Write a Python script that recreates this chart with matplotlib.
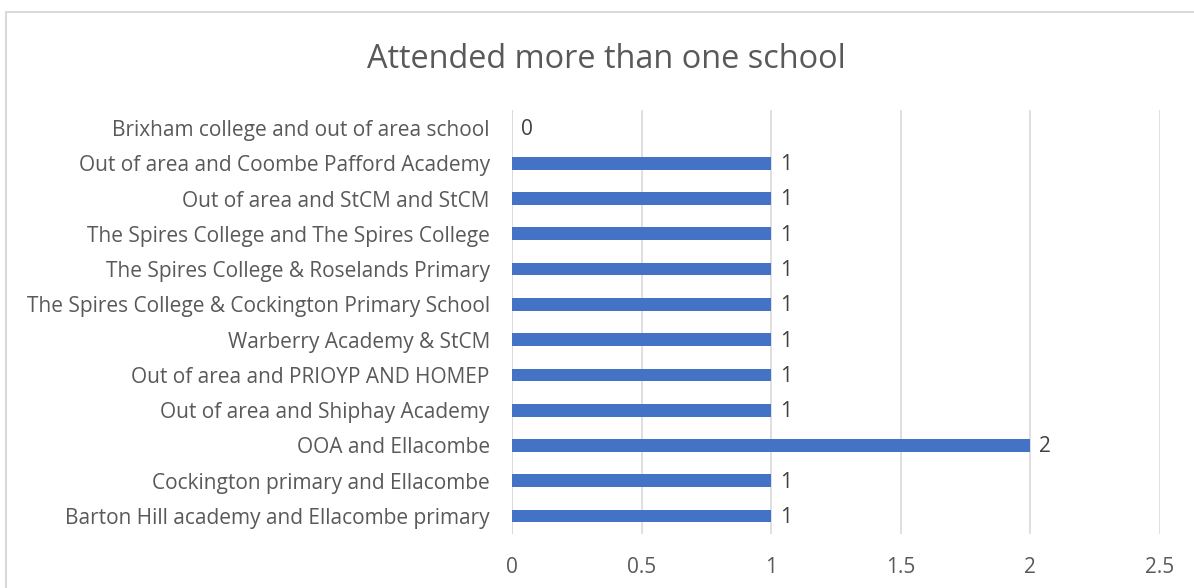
import matplotlib
matplotlib.use("Agg")
import matplotlib.pyplot as plt
from matplotlib.patches import Rectangle

plt.rcParams['font.family'] = ['Open Sans', 'DejaVu Sans']

categories = [
    "Barton Hill academy and Ellacombe primary",
    "Cockington primary and Ellacombe",
    "OOA and Ellacombe",
    "Out of area and Shiphay Academy",
    "Out of area and PRIOYP AND HOMEP",
    "Warberry Academy & StCM",
    "The Spires College & Cockington Primary School",
    "The Spires College & Roselands Primary",
    "The Spires College and The Spires College",
    "Out of area and StCM and StCM",
    "Out of area and Coombe Pafford Academy",
    "Brixham college and out of area school",
]
values = [1, 1, 2, 1, 1, 1, 1, 1, 1, 1, 1, 0]
xticks = [0, 0.5, 1, 1.5, 2, 2.5]
xticklabels = ["0", "0.5", "1", "1.5", "2", "2.5"]
title = "Attended more than one school"

W, H = 1194, 588
fig = plt.figure(figsize=(W / 100, H / 100), dpi=100)
fig.patch.set_facecolor("white")

# chart border
fig.add_artist(Rectangle((6 / W, -0.1), 1.2, (H - 12) / H + 0.1,
                         transform=fig.transFigure, fill=False,
                         edgecolor="#d9d9d9", linewidth=1.5))

left, right = 512 / W, 1160 / W
bottom, top = 1 - 533.6 / H, 1 - 110.4 / H
ax = fig.add_axes([left, bottom, right - left, top - bottom])

FS = 15.0
ypos = list(range(len(categories)))
ax.barh(ypos, values, height=0.36, color="#4472C4", zorder=3)
ax.set_xlim(0, 2.5)
ax.set_ylim(-0.5, len(categories) - 0.5)
ax.set_yticks(ypos)
ax.set_yticklabels(categories, fontsize=FS, color="#595959")
ax.set_xticks(xticks)
ax.set_xticklabels(xticklabels, fontsize=FS, color="#595959")
ax.tick_params(axis='both', length=0)
ax.tick_params(axis='y', pad=16)
ax.tick_params(axis='x', pad=17)
for s in ax.spines.values():
    s.set_visible(False)
ax.grid(axis='x', color="#d9d9d9", linewidth=1.2, zorder=0)
ax.axvline(0, color="#d9d9d9", linewidth=1.2, zorder=1)

for y, v in zip(ypos, values):
    ax.annotate(str(v), (v, y), xytext=(6.5, -1), textcoords="offset points",
                ha="left", va="center", fontsize=FS, color="#404040")

fig.text(606 / W, 1 - 59 / H, title, ha="center", va="center",
         fontsize=23.4, color="#595959")

fig.savefig("out.png", dpi=100)
